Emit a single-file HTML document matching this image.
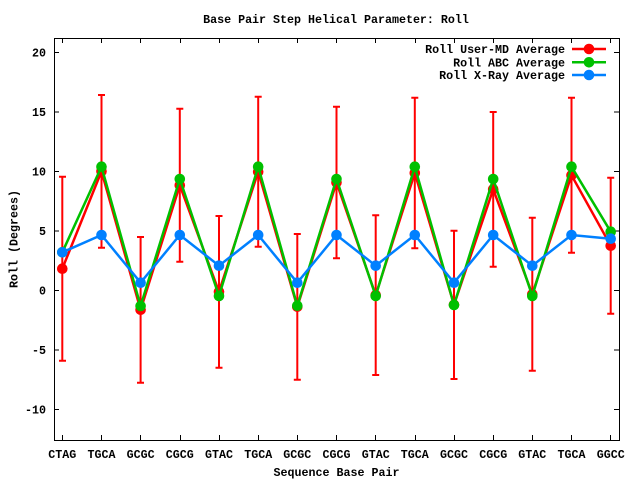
<!DOCTYPE html>
<html><head><meta charset="utf-8"><style>
html,body{margin:0;padding:0;background:#fff;}
svg{display:block;}
text{font-family:"Liberation Mono","DejaVu Sans Mono",monospace;font-weight:bold;font-size:11.67px;fill:#000;}
</style></head><body>
<svg width="640" height="480" viewBox="0 0 640 480" xmlns="http://www.w3.org/2000/svg">
<rect width="640" height="480" fill="#fff"/>
<text x="336" y="23" text-anchor="middle">Base Pair Step Helical Parameter: Roll</text>
<!-- frame -->
<rect x="54.5" y="38.5" width="565" height="402" fill="none" stroke="#000" stroke-width="1"/>
<!-- y ticks -->
<g stroke="#000" stroke-width="1">
<path d="M54 52.5h5M619 52.5h-5M54 112h5M619 112h-5M54 171.5h5M619 171.5h-5M54 231h5M619 231h-5M54 290.5h5M619 290.5h-5M54 350h5M619 350h-5M54 409.5h5M619 409.5h-5"/>
<path d="M62.5 440v-5M62.5 38v5M101.5 440v-5M101.5 38v5M140.5 440v-5M140.5 38v5M180.5 440v-5M180.5 38v5M219.5 440v-5M219.5 38v5M258.5 440v-5M258.5 38v5M297.5 440v-5M297.5 38v5M336.5 440v-5M336.5 38v5M375.5 440v-5M375.5 38v5M415.5 440v-5M415.5 38v5M454.5 440v-5M454.5 38v5M493.5 440v-5M493.5 38v5M532.5 440v-5M532.5 38v5M571.5 440v-5M571.5 38v5M610.5 440v-5M610.5 38v5"/>
</g>
<g text-anchor="end">
<text x="46" y="56.5">20</text>
<text x="46" y="116">15</text>
<text x="46" y="175.5">10</text>
<text x="46" y="235">5</text>
<text x="46" y="294.5">0</text>
<text x="46" y="354">-5</text>
<text x="46" y="413.5">-10</text>
</g>
<g text-anchor="middle">
<text x="62.3" y="458">CTAG</text>
<text x="101.5" y="458">TGCA</text>
<text x="140.6" y="458">GCGC</text>
<text x="179.8" y="458">CGCG</text>
<text x="219" y="458">GTAC</text>
<text x="258.2" y="458">TGCA</text>
<text x="297.3" y="458">GCGC</text>
<text x="336.5" y="458">CGCG</text>
<text x="375.7" y="458">GTAC</text>
<text x="414.8" y="458">TGCA</text>
<text x="454" y="458">GCGC</text>
<text x="493.2" y="458">CGCG</text>
<text x="532.3" y="458">GTAC</text>
<text x="571.5" y="458">TGCA</text>
<text x="610.7" y="458">GGCC</text>
<text x="336.5" y="476">Sequence Base Pair</text>
<text transform="translate(17.5,239) rotate(-90)">Roll (Degrees)</text>
</g>
<!-- red error bars -->
<g stroke="#ff0000" stroke-width="2" fill="none">
<path d="M62.3 176.7V360.7M59 176.7h7M59 360.7h7
M101.5 95V247.7M98 95h7M98 247.7h7
M140.6 237V382.7M137 237h7M137 382.7h7
M179.8 108.7V261.7M176.3 108.7h7M176.3 261.7h7
M219 216V367.7M215.5 216h7M215.5 367.7h7
M258.2 96.7V246.7M254.7 96.7h7M254.7 246.7h7
M297.3 234V379.7M293.8 234h7M293.8 379.7h7
M336.5 106.7V258.3M333 106.7h7M333 258.3h7
M375.7 215.3V375M372.2 215.3h7M372.2 375h7
M414.8 97.7V248.3M411.3 97.7h7M411.3 248.3h7
M454 230.7V379M450.5 230.7h7M450.5 379h7
M493.2 112V266.7M489.7 112h7M489.7 266.7h7
M532.3 217.7V370.7M528.8 217.7h7M528.8 370.7h7
M571.5 97.7V252.7M568 97.7h7M568 252.7h7
M610.7 177.7V313.7M607.2 177.7h7M607.2 313.7h7"/>
</g>
<!-- red series -->
<g fill="#ff0000">
<polyline fill="none" stroke="#ff0000" stroke-width="2.5" points="62.3,268.7 101.5,171.3 140.6,309.8 179.8,185.2 219,291.8 258.2,171.7 297.3,306.8 336.5,182.5 375.7,295.1 414.8,173 454,304.8 493.2,189.3 532.3,294.2 571.5,175.2 610.7,245.7"/>
<circle cx="62.3" cy="268.7" r="5.3"/><circle cx="101.5" cy="171.3" r="5.3"/><circle cx="140.6" cy="309.8" r="5.3"/><circle cx="179.8" cy="185.2" r="5.3"/><circle cx="219" cy="291.8" r="5.3"/><circle cx="258.2" cy="171.7" r="5.3"/><circle cx="297.3" cy="306.8" r="5.3"/><circle cx="336.5" cy="182.5" r="5.3"/><circle cx="375.7" cy="295.1" r="5.3"/><circle cx="414.8" cy="173" r="5.3"/><circle cx="454" cy="304.8" r="5.3"/><circle cx="493.2" cy="189.3" r="5.3"/><circle cx="532.3" cy="294.2" r="5.3"/><circle cx="571.5" cy="175.2" r="5.3"/><circle cx="610.7" cy="245.7" r="5.3"/>
</g>
<!-- green series -->
<g fill="#00c000">
<polyline fill="none" stroke="#00c000" stroke-width="2.5" points="62.3,252.3 101.5,166.7 140.6,306 179.8,179 219,296 258.2,166.7 297.3,305.7 336.5,179 375.7,296 414.8,166.7 454,305 493.2,179 532.3,296 571.5,166.7 610.7,231.7"/>
<circle cx="62.3" cy="252.3" r="5.3"/><circle cx="101.5" cy="166.7" r="5.3"/><circle cx="140.6" cy="306" r="5.3"/><circle cx="179.8" cy="179" r="5.3"/><circle cx="219" cy="296" r="5.3"/><circle cx="258.2" cy="166.7" r="5.3"/><circle cx="297.3" cy="305.7" r="5.3"/><circle cx="336.5" cy="179" r="5.3"/><circle cx="375.7" cy="296" r="5.3"/><circle cx="414.8" cy="166.7" r="5.3"/><circle cx="454" cy="305" r="5.3"/><circle cx="493.2" cy="179" r="5.3"/><circle cx="532.3" cy="296" r="5.3"/><circle cx="571.5" cy="166.7" r="5.3"/><circle cx="610.7" cy="231.7" r="5.3"/>
</g>
<!-- blue series -->
<g fill="#0080ff">
<polyline fill="none" stroke="#0080ff" stroke-width="2.5" points="62.3,252.3 101.5,235 140.6,282.7 179.8,235 219,265.7 258.2,235 297.3,282.7 336.5,235 375.7,265.7 414.8,235 454,282.7 493.2,235 532.3,265.7 571.5,235 610.7,238.7"/>
<circle cx="62.3" cy="252.3" r="5.3"/><circle cx="101.5" cy="235" r="5.3"/><circle cx="140.6" cy="282.7" r="5.3"/><circle cx="179.8" cy="235" r="5.3"/><circle cx="219" cy="265.7" r="5.3"/><circle cx="258.2" cy="235" r="5.3"/><circle cx="297.3" cy="282.7" r="5.3"/><circle cx="336.5" cy="235" r="5.3"/><circle cx="375.7" cy="265.7" r="5.3"/><circle cx="414.8" cy="235" r="5.3"/><circle cx="454" cy="282.7" r="5.3"/><circle cx="493.2" cy="235" r="5.3"/><circle cx="532.3" cy="265.7" r="5.3"/><circle cx="571.5" cy="235" r="5.3"/><circle cx="610.7" cy="238.7" r="5.3"/>
</g>
<!-- legend -->
<g text-anchor="end">
<text x="565" y="53">Roll User-MD Average</text>
<text x="565" y="66.3">Roll ABC Average</text>
<text x="565" y="79">Roll X-Ray Average</text>
</g>
<path d="M572 49h34" stroke="#ff0000" stroke-width="2.5"/><circle cx="589" cy="49" r="5.3" fill="#ff0000"/>
<path d="M572 62.3h34" stroke="#00c000" stroke-width="2.5"/><circle cx="589" cy="62.3" r="5.3" fill="#00c000"/>
<path d="M572 75h34" stroke="#0080ff" stroke-width="2.5"/><circle cx="589" cy="75" r="5.3" fill="#0080ff"/>
</svg>
</body></html>
